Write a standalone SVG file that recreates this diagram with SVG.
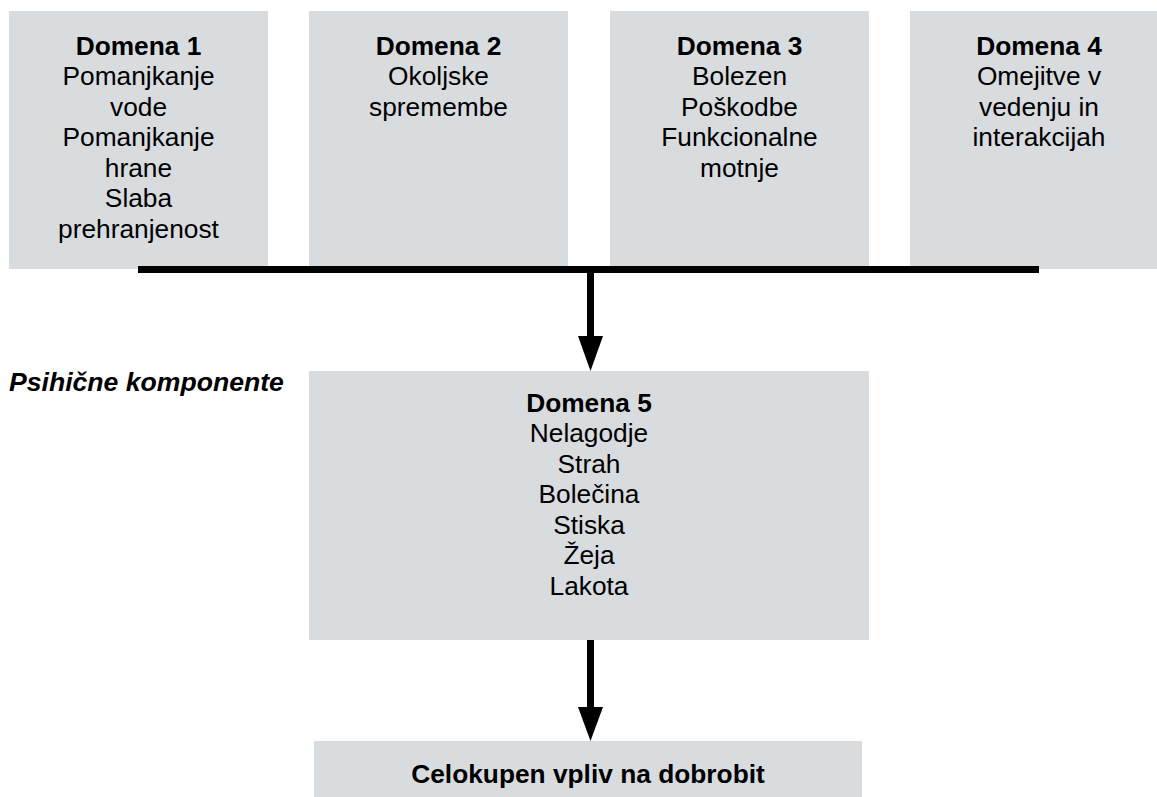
<svg xmlns="http://www.w3.org/2000/svg" width="1157" height="797" viewBox="0 0 1157 797">
<defs>
<style>
.box{fill:#d9dcdf;}
.t{font-family:"Liberation Sans",Arial,sans-serif;font-size:26.3px;fill:#000;text-anchor:middle;}
.b{font-weight:bold;}
.line{stroke:#000;stroke-width:7;fill:none;}
.head{fill:#000;}
</style>
</defs>
<rect width="1157" height="797" fill="#fff"/>
<g id="domena1">
<rect class="box" x="9" y="11" width="259" height="258"/>
<text class="t"><tspan class="b" x="138.5" y="54.5">Domena 1</tspan><tspan x="138.5" y="85">Pomanjkanje</tspan><tspan x="138.5" y="115.5">vode</tspan><tspan x="138.5" y="146">Pomanjkanje</tspan><tspan x="138.5" y="176.5">hrane</tspan><tspan x="138.5" y="207">Slaba</tspan><tspan x="138.5" y="237.5">prehranjenost</tspan></text>
</g>
<g id="domena2">
<rect class="box" x="309" y="11" width="259" height="258"/>
<text class="t"><tspan class="b" x="438.5" y="54.5">Domena 2</tspan><tspan x="438.5" y="85">Okoljske</tspan><tspan x="438.5" y="115.5">spremembe</tspan></text>
</g>
<g id="domena3">
<rect class="box" x="610" y="11" width="259" height="258"/>
<text class="t"><tspan class="b" x="739.5" y="54.5">Domena 3</tspan><tspan x="739.5" y="85">Bolezen</tspan><tspan x="739.5" y="115.5">Poškodbe</tspan><tspan x="739.5" y="146">Funkcionalne</tspan><tspan x="739.5" y="176.5">motnje</tspan></text>
</g>
<g id="domena4">
<rect class="box" x="910" y="11" width="259" height="258"/>
<text class="t"><tspan class="b" x="1039" y="54.5">Domena 4</tspan><tspan x="1039" y="85">Omejitve v</tspan><tspan x="1039" y="115.5">vedenju in</tspan><tspan x="1039" y="146">interakcijah</tspan></text>
</g>
<g id="label-psihicne">
<text class="t b" x="9" y="390.5" style="text-anchor:start;font-style:italic;font-size:26.6px">Psihične komponente</text>
</g>
<g id="domena5">
<rect class="box" x="309" y="371" width="560" height="269"/>
<text class="t"><tspan class="b" x="589" y="411.5">Domena 5</tspan><tspan x="589" y="442">Nelagodje</tspan><tspan x="589" y="472.5">Strah</tspan><tspan x="589" y="503">Bolečina</tspan><tspan x="589" y="533.5">Stiska</tspan><tspan x="589" y="564">Žeja</tspan><tspan x="589" y="594.5">Lakota</tspan></text>
</g>
<g id="celokupen">
<rect class="box" x="314" y="741" width="548" height="60"/>
<text class="t b" x="588" y="782.5">Celokupen vpliv na dobrobit</text>
</g>
<g id="connectors">
<line class="line" x1="138" y1="269.5" x2="1039" y2="269.5"/>
<line class="line" x1="590.5" y1="269.5" x2="590.5" y2="338"/>
<polygon class="head" points="578,336 603,336 590.5,371"/>
<line class="line" x1="590.5" y1="640" x2="590.5" y2="708"/>
<polygon class="head" points="578,707 603,707 590.5,741"/>
</g>
</svg>
